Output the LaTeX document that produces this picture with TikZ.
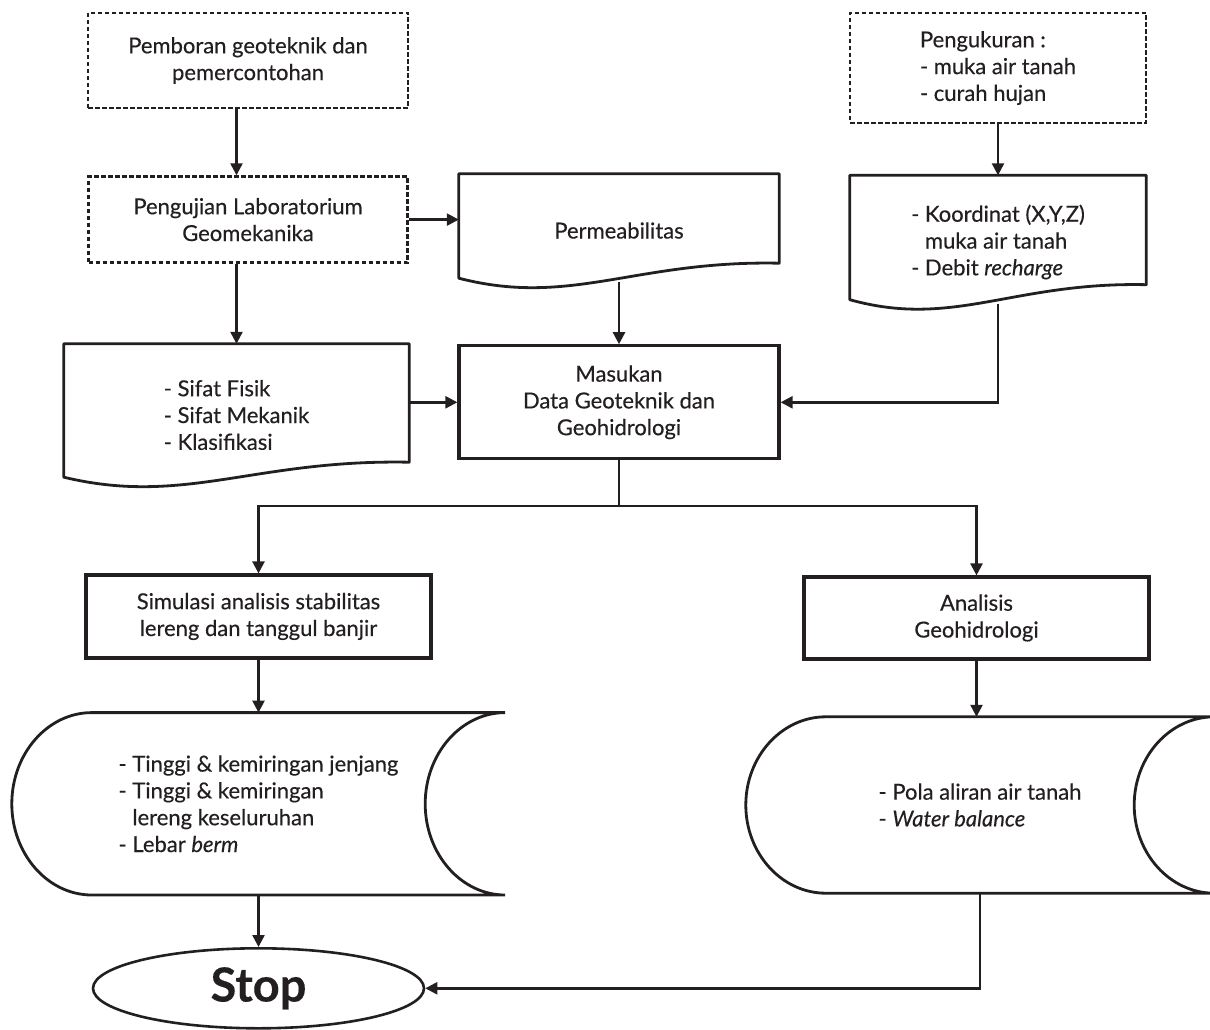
\documentclass[tikz,border=0pt]{standalone}
\usepackage{fontspec}
\setmainfont{Lato}[FakeBold=0.35]
\usetikzlibrary{arrows.meta, positioning, calc, shapes.geometric}
\definecolor{ink}{HTML}{231F20}
\newcommand{\txt}{\fontsize{22}{26.8}\selectfont}
\tikzset{
  box/.style={rectangle, draw=ink, line width=3.2pt, text=ink, align=center, font=\txt},
  dbox/.style={box, line width=2.6pt, dash pattern=on 4.5pt off 2.5pt},
  doc/.style={rectangle, text=ink, align=center, font=\txt,
    append after command={\pgfextra{
      \draw[ink, line width=2.8pt, line join=round]
        (\tikzlastnode.north west) -- (\tikzlastnode.north east)
        -- ([yshift=24pt]\tikzlastnode.south east)
        .. controls ($(\tikzlastnode.south west)!0.55!(\tikzlastnode.south east)+(0,27pt)$)
        and ($(\tikzlastnode.south west)!0.35!(\tikzlastnode.south east)+(0,-20pt)$)
        .. ([yshift=9pt]\tikzlastnode.south west) -- cycle;}}},
  store/.style={rectangle, text=ink, align=left, font=\txt,
    append after command={\pgfextra{
      \draw[ink, line width=2.8pt]
        ([xshift=80pt]\tikzlastnode.north west) -- (\tikzlastnode.north east)
        .. controls ([xshift=-44pt]\tikzlastnode.north east)
        and ($(\tikzlastnode.east)!0.552!(\tikzlastnode.north east)+(-80pt,0)$)
        .. ([xshift=-80pt]\tikzlastnode.east)
        .. controls ($(\tikzlastnode.east)!0.552!(\tikzlastnode.south east)+(-80pt,0)$)
        and ([xshift=-44pt]\tikzlastnode.south east)
        .. (\tikzlastnode.south east)
        -- ([xshift=80pt]\tikzlastnode.south west)
        .. controls ([xshift=36pt]\tikzlastnode.south west)
        and ($(\tikzlastnode.west)!0.552!(\tikzlastnode.south west)$)
        .. (\tikzlastnode.west)
        .. controls ($(\tikzlastnode.west)!0.552!(\tikzlastnode.north west)$)
        and ([xshift=36pt]\tikzlastnode.north west)
        .. ([xshift=80pt]\tikzlastnode.north west) -- cycle;}}},
  term/.style={ellipse, draw=ink, line width=2.6pt, text=ink,
               font=\fontsize{47}{56}\selectfont\bfseries},
  flow/.style={-{Triangle[length=12pt, width=12pt]}, draw=ink, line width=2.4pt},
  link/.style={draw=ink, line width=2.4pt}
}
\begin{document}
\begin{tikzpicture}[x=1pt, y=1pt]
  \useasboundingbox (0,0) rectangle (1210,-1030);
  % input side
  \node[dbox, minimum width=320pt, minimum height=95pt] (bor) at (248,-60.5)
    {Pemboran geoteknik dan\\pemercontohan};
  \node[dbox, below=66pt of bor, minimum width=319pt, minimum height=86pt] (lab)
    {Pengujian Laboratorium\\Geomekanika};
  \node[dbox, align=left, minimum width=296pt, minimum height=110pt] (peng) at (998,-68)
    {Pengukuran :\\- muka air tanah\\- curah hujan};
  \node[doc, below=51pt of peng, align=left, minimum width=296pt, minimum height=133pt] (koord)
    {- Koordinat (X,Y,Z)\\\phantom{- }muka air tanah\\- Debit \textit{recharge}};
  \node[doc, minimum width=320pt, minimum height=113pt] (perm) at (619,-230.5) {Permeabilitas};
  \node[doc, align=left, minimum width=345pt, minimum height=142pt] (sifat) at (236.5,-415)
    {- Sifat Fisik\\- Sifat Mekanik\\- Klasifikasi};
  \node[box, below=57pt of perm, minimum width=320pt, minimum height=113pt] (mas)
    {Masukan\\Data Geoteknik dan\\Geohidrologi};
  \coordinate (split) at (619,-506);

  % analysis side
  \node[box, minimum width=345pt, minimum height=83pt] (sim) at (258.5,-616.5)
    {Simulasi analisis stabilitas\\lereng dan tanggul banjir};
  \node[box, minimum width=345pt, minimum height=82pt] (ana) at (976.5,-618)
    {Analisis\\Geohidrologi};
  \node[store, below=53pt of sim, minimum width=493pt, minimum height=182pt] (geo)
    {- Tinggi \& kemiringan jenjang\\- Tinggi \& kemiringan\\\phantom{- }lereng keseluruhan\\- Lebar \textit{berm}};
  \node[store, minimum width=468pt, minimum height=176pt] (pola) at (980,-805)
    {- Pola aliran air tanah\\- \textit{Water balance}};
  \node[term, below=52pt of geo, minimum width=331pt, minimum height=80pt] (stop) {Stop};

  \draw[flow] (bor.south -| sifat.north) -- (lab.north -| sifat.north);
  \draw[flow] (lab.south -| sifat.north) -- (sifat.north);
  \draw[flow] (lab.east) -- (lab.east -| perm.west);
  \draw[flow] (peng.south) -- (koord.north);
  \draw[flow] ([yshift=5pt]perm.south) -- (mas.north);
  \draw[flow] (sifat.east |- mas.west) -- (mas.west);
  \draw[flow] ([yshift=5pt]koord.south) |- (mas.east);
  \draw[link] (mas.south) -- (split);
  \draw[flow] (split) -| (sim.north);
  \draw[flow] (split) -| (ana.north);
  \draw[flow] (sim.south) -- (sim.south |- geo.north);
  \draw[flow] (ana.south) -- (ana.south |- pola.north);
  \draw[flow] (geo.south) -- (stop.north);
  \draw[flow] (pola.south) |- (stop.east);
\end{tikzpicture}
\end{document}
